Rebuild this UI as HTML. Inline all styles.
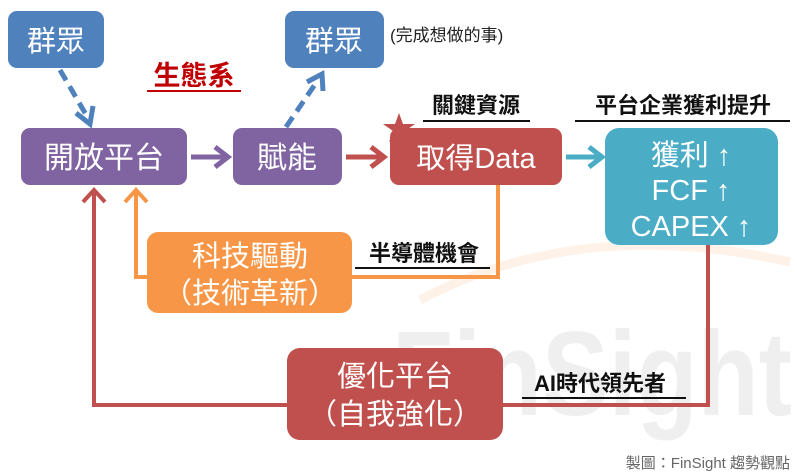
<!DOCTYPE html>
<html><head><meta charset="utf-8"><style>
body{margin:0;background:#fff;}
svg{display:block;font-family:"Liberation Sans","Noto Sans CJK TC",sans-serif;}
</style></head><body>
<svg width="797" height="475" viewBox="0 0 797 475" xmlns="http://www.w3.org/2000/svg">
<!-- watermark -->
<g opacity="0.12">
<path d="M420 300 Q580 215 790 262" stroke="#F79646" stroke-width="9" fill="none"/>
<text x="392" y="415" font-size="120" font-weight="bold" fill="#808080" textLength="400" lengthAdjust="spacingAndGlyphs">FinSight</text>
</g>
<!-- connectors -->
<polyline points="708,245 708,405 94,405 94,190" fill="none" stroke="#C0504D" stroke-width="4"/>
<polyline points="83,202 94,190 105,202" fill="none" stroke="#C0504D" stroke-width="4"/>
<polyline points="498,185 498,277 136,277 136,190" fill="none" stroke="#F79646" stroke-width="4"/>
<polyline points="125,202 136,190 147,202" fill="none" stroke="#F79646" stroke-width="4"/>
<!-- dashed blue -->
<line x1="60" y1="70" x2="88" y2="118" stroke="#4F81BD" stroke-width="5" stroke-dasharray="12,7"/>
<polyline points="76,113 90,124 93,106" fill="none" stroke="#4F81BD" stroke-width="5"/>
<line x1="286" y1="127" x2="318" y2="80" stroke="#4F81BD" stroke-width="5" stroke-dasharray="12,7"/>
<polyline points="307,82 322,74 323,91" fill="none" stroke="#4F81BD" stroke-width="5"/>
<!-- horizontal arrows -->
<line x1="191" y1="157" x2="226" y2="157" stroke="#8064A2" stroke-width="5"/>
<polyline points="215,147 228,157 215,167" fill="none" stroke="#8064A2" stroke-width="5"/>
<line x1="346" y1="157" x2="382" y2="157" stroke="#C0504D" stroke-width="5"/>
<polyline points="371,147 384,157 371,167" fill="none" stroke="#C0504D" stroke-width="5"/>
<line x1="566" y1="157" x2="600" y2="157" stroke="#4BACC6" stroke-width="5"/>
<polyline points="589,147 602,157 589,167" fill="none" stroke="#4BACC6" stroke-width="5"/>
<!-- boxes -->
<rect x="8" y="11" width="96" height="57" rx="9" fill="#4F81BD"/>
<text x="56" y="51" font-size="29" fill="#fff" text-anchor="middle">群眾</text>
<rect x="285" y="11" width="99" height="57" rx="9" fill="#4F81BD"/>
<text x="334" y="51" font-size="29" fill="#fff" text-anchor="middle">群眾</text>
<text x="390" y="41" font-size="17" fill="#222">(完成想做的事)</text>
<text x="194" y="85" font-size="27" font-weight="bold" fill="#C00000" text-anchor="middle">生態系</text>
<line x1="147" y1="91" x2="241" y2="91" stroke="#C00000" stroke-width="2"/>
<rect x="21" y="128" width="166" height="57" rx="9" fill="#8064A2"/>
<text x="104" y="168" font-size="30" fill="#fff" text-anchor="middle">開放平台</text>
<rect x="233" y="128" width="109" height="57" rx="9" fill="#8064A2"/>
<text x="287" y="168" font-size="30" fill="#fff" text-anchor="middle">賦能</text>
<rect x="390" y="128" width="172" height="57" rx="9" fill="#C0504D"/>
<text x="476" y="168" font-size="29" fill="#fff" text-anchor="middle">取得Data</text>
<polygon points="399,113 403,124 415,124 405,131 409,142 399,135 389,142 393,131 383,124 395,124" fill="#C0504D"/>
<text x="476" y="113" font-size="22" font-weight="bold" fill="#111" text-anchor="middle">關鍵資源</text>
<line x1="423" y1="121" x2="530" y2="121" stroke="#111" stroke-width="2"/>
<text x="683" y="113" font-size="22" font-weight="bold" fill="#111" text-anchor="middle">平台企業獲利提升</text>
<line x1="575" y1="121" x2="790" y2="121" stroke="#111" stroke-width="2"/>
<rect x="605" y="128" width="173" height="117" rx="14" fill="#4BACC6"/>
<text x="691" y="165" font-size="29" fill="#fff" text-anchor="middle">獲利 ↑</text>
<text x="691" y="200" font-size="29" fill="#fff" text-anchor="middle">FCF ↑</text>
<text x="691" y="236" font-size="29" fill="#fff" text-anchor="middle">CAPEX ↑</text>
<rect x="147" y="232" width="205" height="81" rx="11" fill="#F79646"/>
<text x="250" y="266" font-size="29" fill="#fff" text-anchor="middle">科技驅動</text>
<text x="250" y="303" font-size="29" fill="#fff" text-anchor="middle">（技術革新）</text>
<text x="424" y="261" font-size="22" font-weight="bold" fill="#111" text-anchor="middle">半導體機會</text>
<line x1="355" y1="268" x2="490" y2="268" stroke="#111" stroke-width="2"/>
<rect x="287" y="348" width="216" height="92" rx="13" fill="#C0504D"/>
<text x="395" y="386" font-size="29" fill="#fff" text-anchor="middle">優化平台</text>
<text x="395" y="424" font-size="29" fill="#fff" text-anchor="middle">（自我強化）</text>
<text x="600" y="391" font-size="22" font-weight="bold" fill="#111" text-anchor="middle">AI時代領先者</text>
<line x1="522" y1="398" x2="686" y2="398" stroke="#111" stroke-width="2"/>
<text x="790" y="468" font-size="15" fill="#666" text-anchor="end">製圖：FinSight 趨勢觀點</text>
</svg>
</body></html>
